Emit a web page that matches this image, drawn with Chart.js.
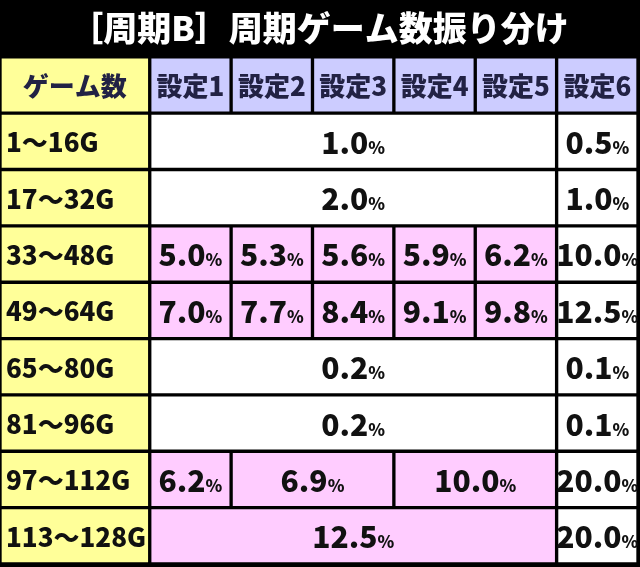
<!DOCTYPE html>
<html><head><meta charset="utf-8">
<script src="https://cdn.jsdelivr.net/npm/chart.js@4"></script>
<style>html,body{margin:0;background:#000}#wrap{width:640px;height:567px}</style>
</head><body><div id="wrap"><canvas id="c"></canvas></div>
<script>
// table content
const titleText = "［周期B］周期ゲーム数振り分け";
const headerLabels = ["ゲーム数", "設定1", "設定2", "設定3", "設定4", "設定5", "設定6"];
const rowLabels = ["1～16G", "17～32G", "33～48G", "49～64G", "65～80G", "81～96G", "97～112G", "113～128G"];
// each cell: [value, first setting, last setting]
const rowCells = [
  [["1.0", 1, 5], ["0.5", 6, 6]],
  [["2.0", 1, 5], ["1.0", 6, 6]],
  [["5.0", 1, 1], ["5.3", 2, 2], ["5.6", 3, 3], ["5.9", 4, 4], ["6.2", 5, 5], ["10.0", 6, 6]],
  [["7.0", 1, 1], ["7.7", 2, 2], ["8.4", 3, 3], ["9.1", 4, 4], ["9.8", 5, 5], ["12.5", 6, 6]],
  [["0.2", 1, 5], ["0.1", 6, 6]],
  [["0.2", 1, 5], ["0.1", 6, 6]],
  [["6.2", 1, 1], ["6.9", 2, 3], ["10.0", 4, 5], ["20.0", 6, 6]],
  [["12.5", 1, 5], ["20.0", 6, 6]]
];
// rows whose setting 1-5 cells are highlighted
const highlightRows = [2, 3, 6, 7];

const labelW = 1.84;
const YELLOW = "#ffff99", LAV = "#ccccff", PINK = "#ffccff", WHITE = "#ffffff";

const pts = [], colors = [];
pts.push({ y: "hdr", x: [0, labelW], text: headerLabels[0], kind: "head" }); colors.push(YELLOW);
for (let s = 1; s <= 6; s++) {
  pts.push({ y: "hdr", x: [labelW + s - 1, labelW + s], text: headerLabels[s], kind: "head" });
  colors.push(LAV);
}
rowLabels.forEach((lab, i) => {
  pts.push({ y: lab, x: [0, labelW], text: lab, kind: "row" }); colors.push(YELLOW);
  rowCells[i].forEach(c => {
    pts.push({ y: lab, x: [labelW + c[1] - 1, labelW + c[2]], text: c[0], kind: "val" });
    colors.push(highlightRows.includes(i) && c[1] <= 5 ? PINK : WHITE);
  });
});

const FONT = "'Noto Sans CJK JP', 'Noto Sans', sans-serif";
const bgPlugin = {
  id: "bg",
  beforeDraw(chart) {
    const ctx = chart.ctx;
    ctx.save(); ctx.fillStyle = "#000"; ctx.fillRect(0, 0, chart.width, chart.height); ctx.restore();
  }
};
const textPlugin = {
  id: "cellText",
  afterDatasetsDraw(chart) {
    const ctx = chart.ctx;
    const meta = chart.getDatasetMeta(0);
    ctx.save();
    ctx.textBaseline = "middle";
    meta.data.forEach((el, i) => {
      const d = pts[i];
      const p = el.getProps(["x", "y", "base"], true);
      const left = Math.min(p.x, p.base), right = Math.max(p.x, p.base);
      const cx = (left + right) / 2;
      if (d.kind === "head") {
        ctx.fillStyle = "#222244";
        ctx.font = "900 26px " + FONT;
        ctx.textAlign = "center";
        ctx.fillText(d.text, cx, p.y + 1);
      } else if (d.kind === "row") {
        ctx.fillStyle = "#111";
        ctx.font = "900 26px " + FONT;
        ctx.textAlign = "left";
        ctx.fillText(d.text, left + 6, p.y + 1);
      } else {
        ctx.fillStyle = "#111";
        ctx.font = "900 30px " + FONT;
        const w1 = ctx.measureText(d.text).width;
        ctx.font = "900 17px " + FONT;
        const w2 = ctx.measureText("%").width;
        const sx = cx - (w1 + w2) / 2;
        ctx.textAlign = "left";
        ctx.font = "900 30px " + FONT;
        ctx.fillText(d.text, sx, p.y + 1);
        ctx.font = "900 17px " + FONT;
        ctx.fillText("%", sx + w1, p.y + 6);
      }
    });
    ctx.restore();
  }
};

new Chart(document.getElementById("c"), {
  type: "bar",
  data: {
    labels: ["hdr"].concat(rowLabels),
    datasets: [{
      data: pts,
      backgroundColor: colors,
      borderColor: "#000",
      borderWidth: 2,
      borderSkipped: false,
      grouped: false,
      barPercentage: 1,
      categoryPercentage: 1
    }]
  },
  options: {
    indexAxis: "y",
    responsive: true,
    maintainAspectRatio: false,
    animation: false,
    layout: { padding: { left: 0, right: 2, top: 0, bottom: 3 } },
    scales: {
      x: { type: "linear", min: 0, max: labelW + 6, display: false },
      y: { type: "category", display: false }
    },
    plugins: {
      legend: { display: false },
      tooltip: { enabled: false },
      title: {
        display: true,
        text: titleText,
        color: "#fff",
        font: { family: FONT, size: 34, weight: "900" },
        padding: { top: 8, bottom: 8 }
      }
    }
  },
  plugins: [bgPlugin, textPlugin]
});
</script></body></html>
